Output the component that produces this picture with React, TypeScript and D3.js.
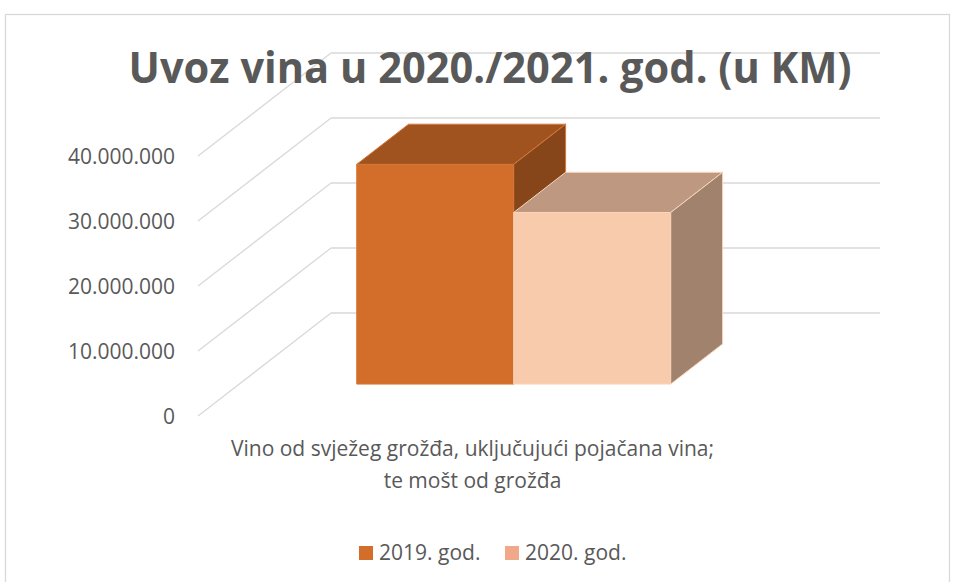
import React from "react";
import * as d3 from "d3";

// chart data
const categoryLines = ["Vino od svježeg grožđa, uključujući pojačana vina;", "te mošt od grožđa"];
const categories = [categoryLines.join(" ")];
const seriesNames = ["2019. god.", "2020. god."];
const values2019 = [33800000];
const values2020 = [26400000];
const yTicks = [0, 10000000, 20000000, 30000000, 40000000];
const title = "Uvoz vina u 2020./2021. god. (u KM)";

const W = 956;
const H = 582;
const origin = { x: 198, y: 416 }; // front-left corner of the floor
const plotW = 549;
const plotH = 260;
const depthVec = { x: 133, y: -103 }; // oblique offset for full depth
const barDepth = [0.31, 0.7];
const textColor = "#595959";
const gridColor = "#D9D9D9";

const styles = [
  { front: "#D26E2A", top: "#A0531F", side: "#86461A", stroke: "#D8773A", legend: "#D26E2A" },
  { front: "#F7CBAC", top: "#BF9882", side: "#A1826D", stroke: "#FAD5BB", legend: "#F1A78A" },
];

const fmt = d3.formatLocale({ decimal: ",", thousands: ".", grouping: [3], currency: ["", ""] }).format(",.0f");

export default function App() {
  const y = d3.scaleLinear().domain([0, 40000000]).range([0, plotH]);
  const xCat = d3.scaleBand().domain(categories).range([0, plotW]);
  const groupW = xCat.bandwidth() * 0.572;
  const xSeries = d3.scaleBand().domain(seriesNames).range([0, groupW]);

  const p = (x: number, v: number, d: number): [number, number] => [
    origin.x + x + d * depthVec.x,
    origin.y - y(v) + d * depthVec.y,
  ];
  const poly = (pts: [number, number][]) => pts.map((q) => q.join(",")).join(" ");

  const series = [values2019, values2020];
  const [d1, d2] = barDepth;

  const bars: JSX.Element[] = [];
  categories.forEach((c, ci) => {
    seriesNames.forEach((s, si) => {
      const v = series[si][ci];
      const x1 = (xCat(c) as number) + (xCat.bandwidth() - groupW) / 2 + (xSeries(s) as number);
      const x2 = x1 + xSeries.bandwidth();
      const st = styles[si];
      bars.push(
        <g key={c + s}>
          <polygon points={poly([p(x1, 0, d1), p(x2, 0, d1), p(x2, v, d1), p(x1, v, d1)])} fill={st.front} stroke={st.stroke} strokeWidth={1} />
          <polygon points={poly([p(x1, v, d1), p(x2, v, d1), p(x2, v, d2), p(x1, v, d2)])} fill={st.top} stroke={st.stroke} strokeWidth={1} />
          <polygon points={poly([p(x2, 0, d1), p(x2, 0, d2), p(x2, v, d2), p(x2, v, d1)])} fill={st.side} stroke={st.stroke} strokeWidth={1} />
        </g>
      );
    });
  });

  const catX = p((xCat(categories[0]) as number) + xCat.bandwidth() / 2, 0, 0)[0];

  return (
    <svg width={W} height={H} style={{ position: "absolute", left: 0, top: 0 }} fontFamily="'Open Sans', sans-serif">
      <rect x={5.5} y={14.5} width={944} height={600} fill="#fff" stroke={gridColor} strokeWidth={1.3} />

      {/* grid: back wall and left wall */}
      {yTicks.map((t) => {
        const [bx1, by] = p(0, t, 1);
        const [bx2] = p(plotW, t, 1);
        const [fx, fy] = p(0, t, 0);
        return (
          <g key={t} stroke={gridColor} strokeWidth={1.3} fill="none">
            <line x1={bx1} y1={by} x2={bx2} y2={by} />
            <line x1={fx} y1={fy} x2={bx1} y2={by} />
          </g>
        );
      })}

      {/* y labels */}
      {yTicks.map((t) => (
        <text key={"l" + t} x={175} y={p(0, t, 0)[1]} dy="0.36em" textAnchor="end" fontSize={21} fill={textColor}>
          {fmt(t)}
        </text>
      ))}

      {bars}

      <text x={490} y={83} textAnchor="middle" fontSize={43} fontWeight="bold" fill={textColor} textLength={723} lengthAdjust="spacingAndGlyphs">
        {title}
      </text>

      {categoryLines.map((line, i) => (
        <text key={line} x={catX} y={456 + i * 32} textAnchor="middle" fontSize={21} fill={textColor}>
          {line}
        </text>
      ))}

      {/* legend */}
      {seriesNames.map((s, i) => {
        const lx = 359 + i * 146;
        return (
          <g key={s}>
            <rect x={lx} y={546} width={14} height={14} fill={styles[i].legend} />
            <text x={lx + 20} y={560} fontSize={21} fill={textColor}>
              {s}
            </text>
          </g>
        );
      })}
    </svg>
  );
}
